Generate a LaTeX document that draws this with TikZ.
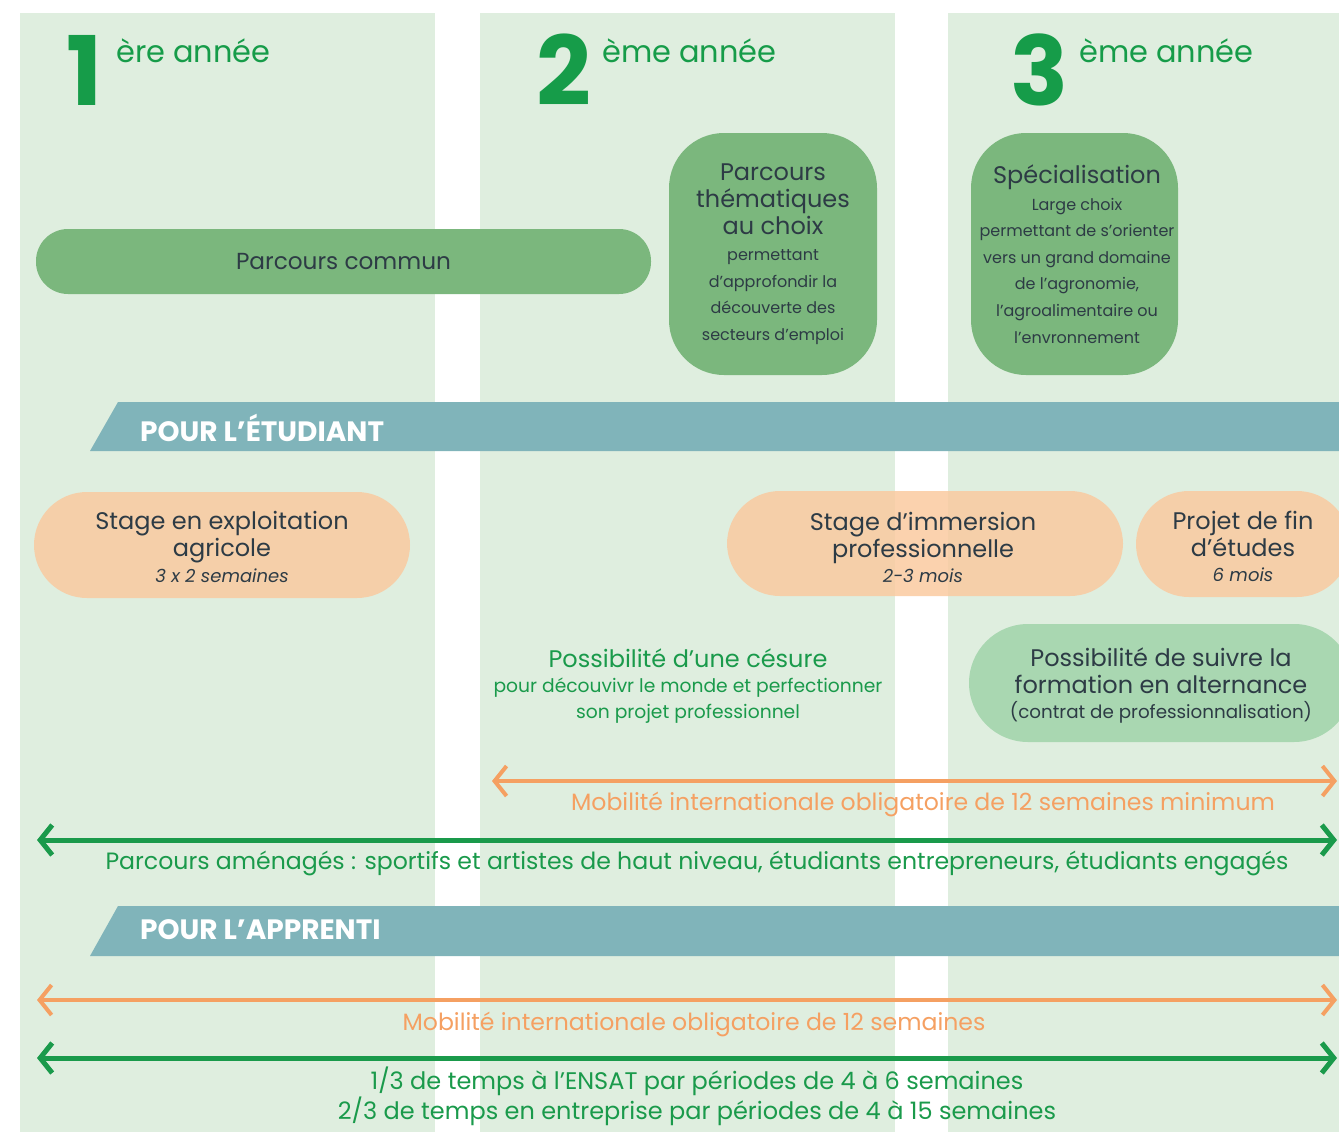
\documentclass[tikz,border=0pt]{standalone}
\usepackage{fontspec}
\setmainfont{Poppins}
\usetikzlibrary{arrows.meta, positioning}

\definecolor{bgGreen}{HTML}{DFEEDF}
\definecolor{yearGreen}{HTML}{169C49}
\definecolor{pillGreen}{HTML}{7BB77D}
\definecolor{softGreen}{HTML}{A9D7B1}
\definecolor{peach}{HTML}{FACAA0}
\definecolor{bandBlue}{HTML}{80B4BA}
\definecolor{darkText}{HTML}{2D3B45}
\definecolor{orangeLine}{HTML}{F5A062}
\definecolor{greenLine}{HTML}{1A9A4B}

\newcommand{\sz}[2]{\fontsize{#1}{#2}\selectfont}

\tikzset{
	yearnum/.style={text=yearGreen, font=\sz{96}{100}\bfseries, inner sep=0pt, anchor=base west},
	yearlbl/.style={text=yearGreen, font=\sz{30.4}{32}, inner sep=0pt, anchor=base west},
	pill/.style={rectangle, rounded corners=#1, inner sep=0pt, text=darkText, font=\sz{23.2}{27}},
	title/.style={text=darkText, align=center, inner sep=0pt, font=\sz{24}{27}},
	desc/.style={text=darkText, align=center, inner sep=0pt, font=\sz{16}{26.6}},
	dura/.style={text=darkText, align=center, inner sep=0pt, font=\sz{18}{20}\itshape},
	band/.style={fill=bandBlue},
	bandlbl/.style={text=white, inner sep=0pt, anchor=west, font=\sz{28}{30}\bfseries},
	orangeArrow/.style={draw=orangeLine, line width=4, {Straight Barb[length=12pt,width=30pt]}-{Straight Barb[length=12pt,width=30pt]}},
	greenArrow/.style={draw=greenLine, line width=5, {Straight Barb[length=12pt,width=30pt]}-{Straight Barb[length=12pt,width=30pt]}},
	olbl/.style={text=orangeLine, align=center, inner sep=0pt, font=\sz{23.6}{26}},
	glbl/.style={text=greenLine, align=center, inner sep=0pt, font=\sz{23.6}{26}}
}

\begin{document}
\begin{tikzpicture}[x=1pt,y=-1pt]
	\useasboundingbox (0,0) rectangle (1339,1132);

	% columns
	\fill[bgGreen] (20,13) rectangle (435,1132);
	\fill[bgGreen] (480,13) rectangle (895,1132);
	\fill[bgGreen] (948,13) rectangle (1339,1132);

	% years
	\node[yearnum] (y1n) at (66,105) {1};
	\node[yearlbl] (y1l) at (116,63) {ère année};
	\node[yearnum] (y2n) at (536,105) {2};
	\node[yearlbl] (y2l) at (602,63) {ème année};
	\node[yearnum] (y3n) at (1010,105) {3};
	\node[yearlbl] (y3l) at (1079,63) {ème année};

	% parcours
	\node[pill=32, fill=pillGreen, minimum width=615, minimum height=65] (commun) at (343.5,261.5) {Parcours commun};
	\node[pill=55, fill=pillGreen, minimum width=208, minimum height=242] (thema) at (773,254) {};
	\node[title] (themaT) at (773,199) {Parcours\\thématiques\\au choix};
	\node[desc] (themaD) at (773,297) {permettant\\d’approfondir la\\découverte des\\secteurs d’emploi};
	\node[pill=55, fill=pillGreen, minimum width=207, minimum height=242] (spec) at (1074.5,254) {};
	\node[title] (specT) at (1077,177) {Spécialisation};
	\node[desc] (specD) at (1077,270.5) {Large choix\\permettant de s’orienter\\vers un grand domaine\\de l’agronomie,\\l’agroalimentaire ou\\l’envronnement};

	% pour l'etudiant
	\fill[band] (90,451) -- (118,402) -- (1339,402) -- (1339,451) -- cycle;
	\node[bandlbl] (etud) at (140,428) {POUR L’ÉTUDIANT};

	\node[pill=53, fill=peach, fill opacity=0.85, minimum width=376, minimum height=106] (expl) at (222,545) {};
	\node[title] (explT) at (222,537.5) {Stage en exploitation\\agricole};
	\node[dura] (explD) at (222,576) {3 x 2 semaines};
	\node[pill=53, fill=peach, fill opacity=0.85, minimum width=396, minimum height=105] (immer) at (925,543.5) {};
	\node[title] (immerT) at (923,537.5) {Stage d’immersion\\professionnelle};
	\node[dura] (immerD) at (923,576) {2-3 mois};
	\node[pill=53, fill=peach, fill opacity=0.85, minimum width=214, minimum height=106] (pfe) at (1243,544) {};
	\node[title] (pfeT) at (1243,534) {Projet de fin\\d’études};
	\node[dura] (pfeD) at (1243,575) {6 mois};

	\node[title, text=greenLine] (cesT) at (688,658) {Possibilité d’une césure};
	\node[desc, text=greenLine, font=\sz{18.7}{26}] (cesD) at (688,701) {pour découvivr le monde et perfectionner\\son projet professionnel};

	\node[pill=59, fill=softGreen, minimum width=384, minimum height=118] (alter) at (1161,683) {};
	\node[title] (alterT) at (1161,670.5) {Possibilité de suivre la\\formation en alternance};
	\node[desc, font=\sz{18.3}{22}] (alterD) at (1161,712) {(contrat de professionnalisation)};

	\coordinate (mob1a) at (492,781);
	\coordinate (mob1b) at (1337,781);
	\draw[orangeArrow] (mob1a) -- (mob1b);
	\node[olbl] (mob1) at (923,804) {Mobilité internationale obligatoire de 12 semaines minimum};

	\coordinate (amena) at (37,840);
	\coordinate (amenb) at (1337,840);
	\draw[greenArrow] (amena) -- (amenb);
	\node[glbl] (amen) at (697,863) {Parcours aménagés : sportifs et artistes de haut niveau, étudiants entrepreneurs, étudiants engagés};

	% pour l'apprenti
	\fill[band] (90,956) -- (118,906) -- (1339,906) -- (1339,956) -- cycle;
	\node[bandlbl] (appr) at (140,930) {POUR L’APPRENTI};

	\coordinate (mob2a) at (37,1000);
	\coordinate (mob2b) at (1337,1000);
	\draw[orangeArrow] (mob2a) -- (mob2b);
	\node[olbl] (mob2) at (694,1024) {Mobilité internationale obligatoire de 12 semaines};

	\coordinate (tempsa) at (37,1058);
	\coordinate (tempsb) at (1337,1058);
	\draw[greenArrow] (tempsa) -- (tempsb);
	\node[glbl, font=\sz{24}{26}] (temps) at (697,1096) {1/3 de temps à l’ENSAT par périodes de 4 à 6 semaines\\2/3 de temps en entreprise par périodes de 4 à 15 semaines};
\end{tikzpicture}
\end{document}
